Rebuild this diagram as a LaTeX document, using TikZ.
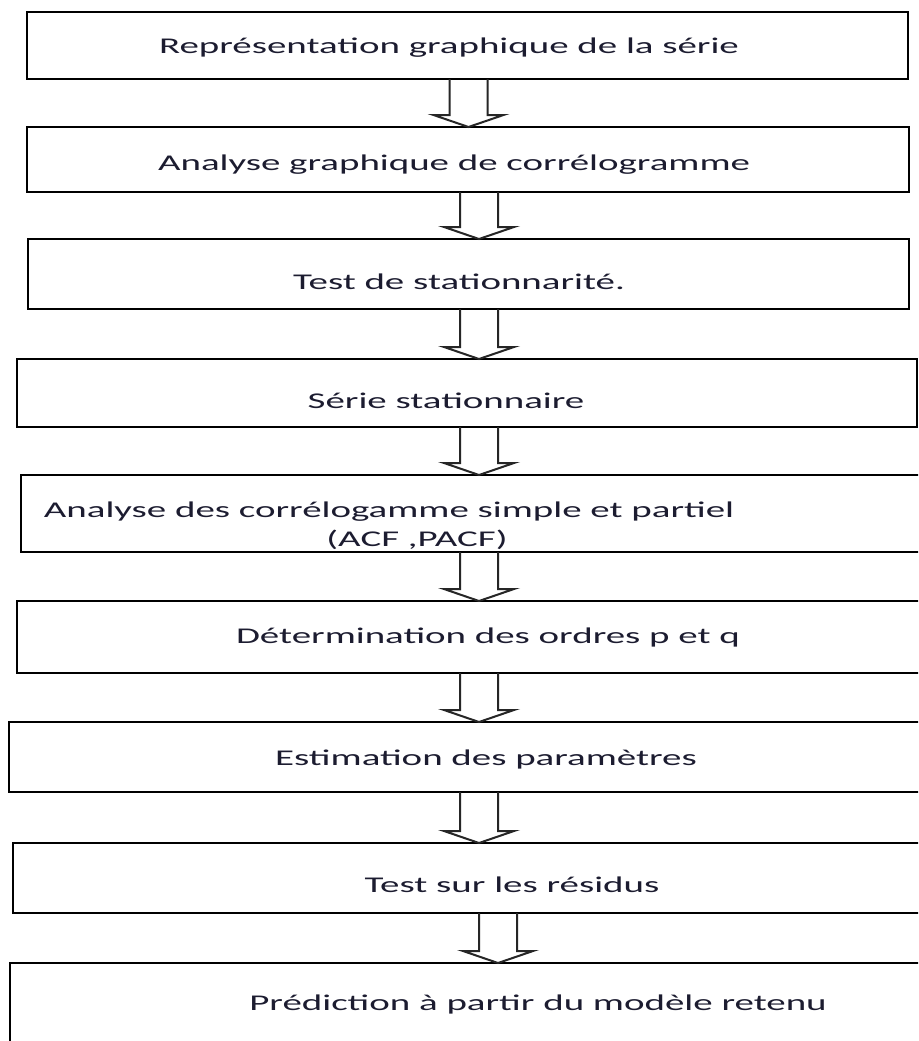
\documentclass[tikz,border=0pt]{standalone}
\usepackage{fontspec}
\usetikzlibrary{calc}
\newfontfamily\flowfont[FakeStretch=1.73]{Carlito}
\definecolor{inkdark}{RGB}{28,28,48}

% hollow block arrow from the bottom of one box to the top of the next
% #1 column coordinate, #2 source box, #3 target box
\newcommand\flowarrow[3]{%
  \draw[blockarrow] let \p1=(#1 |- #2.south), \p2=(#1 |- #3.north) in
    (\x1-19pt,\y1) -- (\x1-19pt,\y2+12pt) -- (\x1-35pt,\y2+12pt) -- (\x1,\y2)
    -- (\x1+35pt,\y2+12pt) -- (\x1+19pt,\y2+12pt) -- (\x1+19pt,\y1);}

\begin{document}
\begin{tikzpicture}[x=1pt,y=-1pt,
  stepbox/.style={draw=black, line width=2.4pt, inner sep=0pt, outer sep=0pt},
  steptext/.style={anchor=base, inner sep=0pt, text=inkdark,
    font=\flowfont\fontsize{22.5}{28}\selectfont},
  blockarrow/.style={draw=black!85, line width=2pt, line join=miter}]
\useasboundingbox (0,0) rectangle (918,1041);
\fill[white] (0,0) rectangle (918,1041);
\clip (0,0) rectangle (918,1041);

% process boxes
\node[stepbox, minimum width=881pt, minimum height=67pt]  (b1) at (467.5,45.5) {};
\node[stepbox, minimum width=882pt, minimum height=65pt]  (b2) at (468,159.5) {};
\node[stepbox, minimum width=881pt, minimum height=70pt]  (b3) at (468.5,274) {};
\node[stepbox, minimum width=900pt, minimum height=68pt]  (b4) at (467,393) {};
\node[stepbox, minimum width=904pt, minimum height=77pt]  (b5) at (473,513.5) {};
\node[stepbox, minimum width=908pt, minimum height=72pt]  (b6) at (471,637) {};
\node[stepbox, minimum width=916pt, minimum height=70pt]  (b7) at (467,757) {};
\node[stepbox, minimum width=912pt, minimum height=70pt]  (b8) at (469,878) {};
\node[stepbox, minimum width=915pt, minimum height=107pt] (b9) at (467.5,1016.5) {};

% step labels
\node[steptext] (t1)  at (449,53)   {Représentation graphique de la série};
\node[steptext] (t2)  at (454,170)  {Analyse graphique de corrélogramme};
\node[steptext] (t3)  at (459,289)  {Test de stationnarité.};
\node[steptext] (t4)  at (446,408)  {Série stationnaire};
\node[steptext] (t5a) at (389,517)  {Analyse des corrélogamme simple et partiel};
\node[steptext] (t5b) at (417,546)  {(ACF ,PACF)};
\node[steptext] (t6)  at (488,643)  {Détermination des ordres p et q};
\node[steptext] (t7)  at (486,765)  {Estimation des paramètres};
\node[steptext] (t8)  at (512,892)  {Test sur les résidus};
\node[steptext] (t9)  at (538,1010) {Prédiction à partir du modèle retenu};

% arrow columns
\coordinate (c1) at (468.5,0);
\coordinate (c2) at (479,0);
\coordinate (c3) at (498,0);

% connectors
\flowarrow{c1}{b1}{b2}
\flowarrow{c2}{b2}{b3}
\flowarrow{c2}{b3}{b4}
\flowarrow{c2}{b4}{b5}
\flowarrow{c2}{b5}{b6}
\flowarrow{c2}{b6}{b7}
\flowarrow{c2}{b7}{b8}
\flowarrow{c3}{b8}{b9}
\end{tikzpicture}
\end{document}
